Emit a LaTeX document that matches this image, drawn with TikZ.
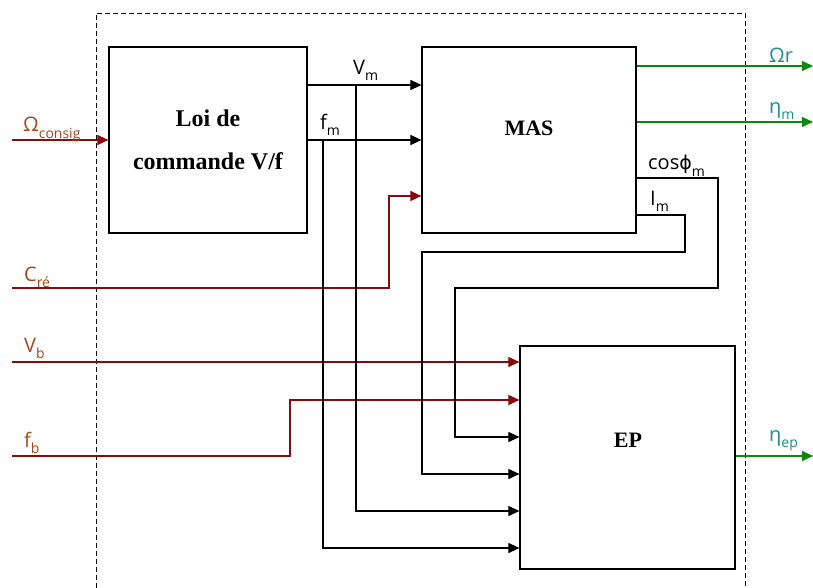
\documentclass[tikz,border=0pt]{standalone}
\usepackage{fontspec}
\setmainfont{Open Sans}
\newfontfamily\boxfont{Liberation Serif}
\newfontfamily\djv{DejaVu Sans}
\usetikzlibrary{arrows.meta}
\definecolor{inred}{HTML}{8B0A0A}
\definecolor{inlab}{HTML}{A8451C}
\definecolor{outgr}{HTML}{0A8A0A}
\definecolor{outlab}{HTML}{1E8C8C}
\newcommand\sbs[1]{\raisebox{-6pt}{\fontsize{14}{14}\selectfont #1}}
\begin{document}
\begin{tikzpicture}[x=1pt,y=-1pt,
 blk/.style={draw, line width=1.2pt, fill=white, inner sep=0pt},
 btxt/.style={font=\boxfont\bfseries\fontsize{22}{42}\selectfont, align=center, inner sep=0pt},
 wire/.style={line width=1.1pt},
 arr/.style={wire,-{Triangle[length=11pt,width=10pt]}},
 lab/.style={font=\fontsize{20}{20}\selectfont, inner sep=0pt, anchor=base west},
]
\useasboundingbox (0,0) rectangle (813,588);
\draw[line width=0.9pt, dash pattern=on 5pt off 3pt] (96,588) -- (96,13) -- (745,13) -- (745,588);

% blocks
\node[blk, minimum width=198pt, minimum height=186pt] (loi) at (208,140) {};
\node[btxt, font=\boxfont\bfseries\fontsize{24}{43}\selectfont] (loitxt) at (208,140) {Loi de\\commande V/f};
\node[blk, minimum width=214pt, minimum height=186pt] (mas) at (529,140) {};
\node[btxt, anchor=center] (mastxt) at (529,128) {MAS};
\node[blk, minimum width=215pt, minimum height=223pt] (ep) at (627.5,457.5) {};
\node[btxt] (eptxt) at (628,440) {EP};

% free ends
\coordinate (om) at (12,140);
\coordinate (cr) at (12,288);
\coordinate (vb) at (12,362);
\coordinate (fb) at (12,456);
\coordinate (omr) at (813,66);
\coordinate (etam) at (813,122);
\coordinate (etaep) at (813,456);
\coordinate (jv) at (356,85);
\coordinate (jf) at (323,140);

% inputs
\draw[arr, inred] (om) -- (loi.west);
\draw[arr, inred] (cr) -- (389,288) -- (389,196) -- (mas.west |- 0,196);
\draw[arr, inred] (vb) -- (ep.west |- vb);
\draw[arr, inred] (fb) -- (290,456) -- (290,400) -- (ep.west |- 0,400);

% loi -> mas
\draw[arr] (loi.east |- jv) -- (mas.west |- jv);
\draw[arr] (loi.east) -- (mas.west |- loi.east);
\draw[arr] (jv) -- (356,511) -- (ep.west |- 0,511);
\draw[arr] (jf) -- (323,548) -- (ep.west |- 0,548);

% mas -> ep
\draw[arr] (mas.east |- 0,178) -- (718,178) -- (718,288) -- (455,288) -- (455,437) -- (ep.west |- 0,437);
\draw[arr] (mas.east |- 0,215) -- (685,215) -- (685,252) -- (422,252) -- (422,474) -- (ep.west |- 0,474);

% outputs
\draw[arr, outgr] (mas.east |- omr) -- (omr);
\draw[arr, outgr] (mas.east |- etam) -- (etam);
\draw[arr, outgr] (ep.east |- etaep) -- (etaep);

% labels
\node[lab, inlab] (lom) at (23,132) {Ω\sbs{consig}};
\node[lab, inlab] (lcr) at (24,281) {C\sbs{ré}};
\node[lab, inlab] (lvb) at (24,352) {V\sbs{b}};
\node[lab, inlab] (lfb) at (24,447) {f\sbs{b}};
\node[lab] (lvm) at (353,75) {V\sbs{m}};
\node[lab] (lfm) at (320,130) {f\sbs{m}};
\node[lab] (lcos) at (648,170) {cos{\djv\fontsize{19}{19}\selectfont ϕ}\sbs{m}};
\node[lab] (lim) at (650,205) {I\sbs{m}};
\node[lab, outlab] (lomr) at (769,63) {Ωr};
\node[lab, outlab] (letam) at (769,114) {η\sbs{m}};
\node[lab, outlab] (letaep) at (769,441) {η\sbs{ep}};
\end{tikzpicture}
\end{document}
